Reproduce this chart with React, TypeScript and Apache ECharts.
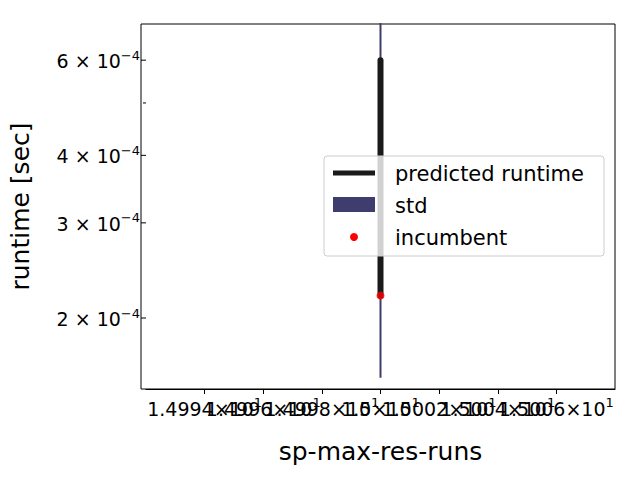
import React, { useEffect, useRef } from 'react';
import * as echarts from 'echarts';

const xValue = 15;
const predicted = [6.0e-4, 2.2e-4];
const stdRange = [7.3e-4, 1.55e-4];
const incumbent = 2.2e-4;
const xMin = 14.992;
const xMax = 15.008;
const xStep = 0.002;
const yTicks = [2e-4, 3e-4, 4e-4, 6e-4];
const yTickLabels = ['2', '3', '4', '6'];
const yMinor = [5e-4];
const yMin = 1.478e-4;
const yMax = 7.0e-4;

const lg = (v: number) => Math.log10(v);
const FONT = 'DejaVu Sans';

const App = () => {
  const chartRef = useRef<HTMLDivElement>(null);

  useEffect(() => {
    document.body.style.margin = '0';
    const chart = echarts.init(chartRef.current, null, { renderer: 'svg' });
    chart.setOption({
      animation: false,
      textStyle: { fontFamily: FONT },
      grid: { left: 141, right: 25, top: 24, bottom: 91 },
      xAxis: {
        type: 'value',
        min: xMin,
        max: xMax,
        interval: xStep,
        name: 'sp-max-res-runs',
        nameLocation: 'middle',
        nameGap: 50,
        nameTextStyle: { fontSize: 25, color: '#000', fontFamily: FONT },
        axisLine: { onZero: false, lineStyle: { color: '#000', width: 1 } },
        axisTick: { length: 5, lineStyle: { color: '#000' } },
        splitLine: { show: false },
        axisLabel: {
          showMinLabel: false,
          showMaxLabel: false,
          margin: 7,
          formatter: (v: number) => {
            const s = (v / 10).toFixed(5).replace(/0+$/, '').replace(/\.$/, '');
            return `{a|${s}×10}{s|1}`;
          },
          rich: {
            a: { fontSize: 19, color: '#000', fontFamily: FONT },
            s: { fontSize: 13, color: '#000', fontFamily: FONT, verticalAlign: 'top', padding: [0, 0, 12, 0] },
          },
        },
      },
      yAxis: {
        type: 'value',
        min: lg(yMin),
        max: lg(yMax),
        name: 'runtime [sec]',
        nameLocation: 'middle',
        nameGap: 113,
        nameTextStyle: { fontSize: 25, color: '#000', fontFamily: FONT },
        axisLine: { show: false },
        axisTick: { show: false },
        axisLabel: { show: false },
        splitLine: { show: false },
      },
      series: [
        {
          type: 'line',
          data: stdRange.map((v) => [xValue, lg(v)]),
          symbol: 'none',
          lineStyle: { color: '#3f3d6e', width: 2 },
          z: 1,
        },
        {
          type: 'line',
          data: predicted.map((v) => [xValue, lg(v)]),
          symbol: 'none',
          lineStyle: { color: '#1a1a1a', width: 6, cap: 'round' },
          z: 2,
        },
        {
          type: 'scatter',
          data: [[xValue, lg(incumbent)]],
          symbolSize: 8,
          itemStyle: { color: '#ff0000' },
          z: 3,
        },
      ],
    });

    const elems: any[] = [];
    yTicks.forEach((t, i) => {
      const [x, y] = chart.convertToPixel({ gridIndex: 0 }, [xMin, lg(t)]);
      elems.push({ type: 'line', shape: { x1: x - 5, y1: y, x2: x, y2: y }, style: { stroke: '#000', lineWidth: 1 } });
      elems.push({
        type: 'text', x: x - 6, y: y + 1,
        style: {
          text: `{a|${yTickLabels[i]} × 10}{s|−4}`, align: 'right', verticalAlign: 'middle',
          rich: {
            a: { fontSize: 19, fill: '#000', fontFamily: FONT },
            s: { fontSize: 13, fill: '#000', fontFamily: FONT, verticalAlign: 'top', padding: [0, 0, 12, 0] },
          },
        },
      });
    });
    yMinor.forEach((t) => {
      const [x, y] = chart.convertToPixel({ gridIndex: 0 }, [xMin, lg(t)]);
      elems.push({ type: 'line', shape: { x1: x - 3, y1: y, x2: x, y2: y }, style: { stroke: '#000', lineWidth: 1 } });
    });
    elems.push({ type: 'rect', shape: { x: 141, y: 24, width: 474, height: 365 }, style: { fill: 'none', stroke: '#000', lineWidth: 1 }, z: 0 });
    // legend
    const lx = 324, ly = 156;
    elems.push({ type: 'rect', shape: { x: lx, y: ly, width: 280, height: 100, r: 3 }, style: { fill: 'rgba(255,255,255,0.8)', stroke: '#ccc', lineWidth: 1 }, z: 10 });
    elems.push({ type: 'line', shape: { x1: lx + 9, y1: ly + 17, x2: lx + 51, y2: ly + 17 }, style: { stroke: '#1a1a1a', lineWidth: 5 }, z: 11 });
    elems.push({ type: 'rect', shape: { x: lx + 9, y: ly + 41, width: 42, height: 15 }, style: { fill: '#3f3d6e' }, z: 11 });
    elems.push({ type: 'circle', shape: { cx: lx + 30, cy: ly + 81, r: 4 }, style: { fill: '#ff0000' }, z: 11 });
    ['predicted runtime', 'std', 'incumbent'].forEach((t, i) => {
      elems.push({ type: 'text', x: lx + 71, y: ly + 18 + i * 32, style: { text: t, fontSize: 21, fontFamily: FONT, fill: '#000', verticalAlign: 'middle' }, z: 11 });
    });
    chart.setOption({ graphic: elems });

    return () => chart.dispose();
  }, []);

  return <div ref={chartRef} style={{ width: '640px', height: '480px' }} />;
};

export default App;
